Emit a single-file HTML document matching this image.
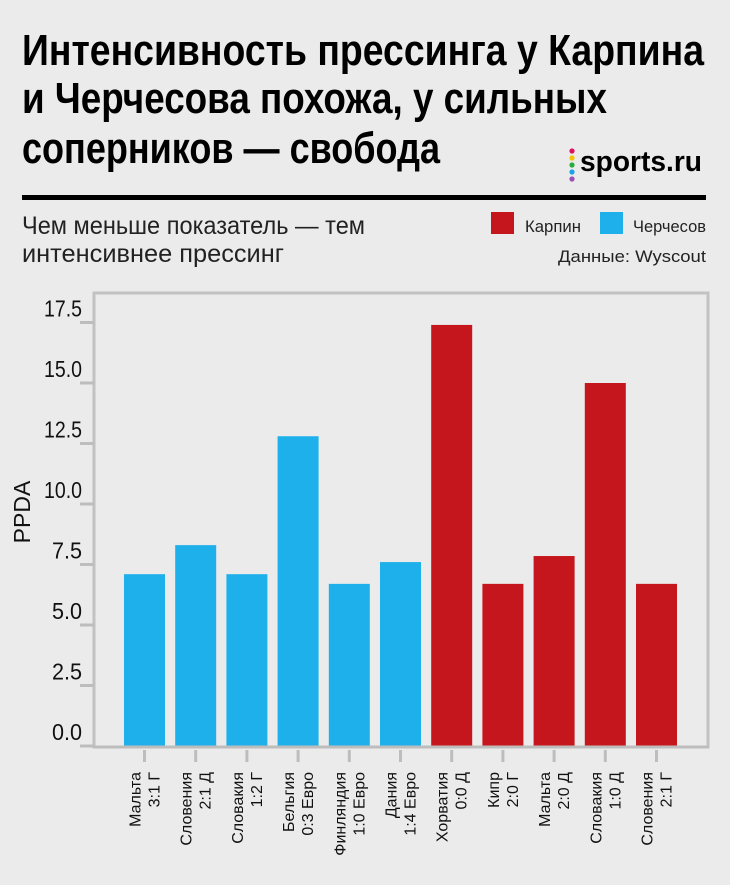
<!DOCTYPE html>
<html><head><meta charset="utf-8">
<style>
html,body{margin:0;padding:0;background:#ebebeb;}
svg{display:block;font-family:"Liberation Sans",sans-serif;}
</style></head>
<body>
<svg width="730" height="885" viewBox="0 0 730 885" xmlns="http://www.w3.org/2000/svg">
<rect width="730" height="885" fill="#ebebeb"/>
<g font-weight="bold" fill="#000" font-size="44">
<text x="22" y="65" textLength="682" lengthAdjust="spacingAndGlyphs">Интенсивность прессинга у Карпина</text>
<text x="22" y="113" textLength="585" lengthAdjust="spacingAndGlyphs">и Черчесова похожа, у сильных</text>
<text x="22" y="163" textLength="418" lengthAdjust="spacingAndGlyphs">соперников — свобода</text>
</g>
<g>
<circle cx="572" cy="151" r="2.6" fill="#e0115f"/>
<circle cx="572" cy="158" r="2.6" fill="#f5c400"/>
<circle cx="572" cy="165" r="2.6" fill="#2bab3c"/>
<circle cx="572" cy="172" r="2.6" fill="#1aa3e8"/>
<circle cx="572" cy="179" r="2.6" fill="#9b4fb3"/>
<text x="580" y="171" font-size="29" font-weight="bold" textLength="122" lengthAdjust="spacingAndGlyphs">sports.ru</text>
</g>
<rect x="22" y="195" width="684" height="5" fill="#000"/>
<g font-size="25" fill="#222">
<text x="22" y="234" textLength="343" lengthAdjust="spacingAndGlyphs">Чем меньше показатель — тем</text>
<text x="22" y="262" textLength="262" lengthAdjust="spacingAndGlyphs">интенсивнее прессинг</text>
</g>
<g font-size="17" fill="#222">
<g><rect x="491" y="212" width="23" height="22" fill="#c4161c"/><text x="525" y="232" textLength="56" lengthAdjust="spacingAndGlyphs">Карпин</text></g>
<g><rect x="600" y="212" width="23" height="22" fill="#1eb0ea"/><text x="633" y="232" textLength="73" lengthAdjust="spacingAndGlyphs">Черчесов</text></g>
<text x="706" y="262" text-anchor="end" textLength="148" lengthAdjust="spacingAndGlyphs">Данные: Wyscout</text>
</g>
<g id="plot"></g>
<text transform="translate(30,512) rotate(-90)" text-anchor="middle" font-size="23" fill="#111">PPDA</text>
</svg>
<script>
const labels1 = ["Мальта","Словения","Словакия","Бельгия","Финляндия","Дания","Хорватия","Кипр","Мальта","Словакия","Словения"];
const labels2 = ["3:1 Г","2:1 Д","1:2 Г","0:3 Евро","1:0 Евро","1:4 Евро","0:0 Д","2:0 Г","2:0 Д","1:0 Д","2:1 Г"];
const values = [7.1, 8.3, 7.1, 12.8, 6.7, 7.6, 17.4, 6.7, 7.85, 15.0, 6.7];
const coach = ["c","c","c","c","c","c","k","k","k","k","k"];
const yTicks = [0, 2.5, 5, 7.5, 10, 12.5, 15, 17.5];
const yTickLabels = ["0.0","2.5","5.0","7.5","10.0","12.5","15.0","17.5"];

const NS="http://www.w3.org/2000/svg";
const g=document.getElementById('plot');
const x0=94,x1=708,y0=293,yBase=746,unit=24.2;
const y=v=>yBase-v*unit;
const step=51.2, bw=41, first=124;
const xc=i=>first+bw/2+i*step;
function mk(t,a){const e=document.createElementNS(NS,t);for(const k in a)e.setAttribute(k,a[k]);g.appendChild(e);return e;}
const frame=mk('rect',{x:x0,y:y0,width:x1-x0,height:yBase+1-y0,fill:'none',stroke:'#c2c2c2','stroke-width':3});


yTicks.forEach((t,i)=>{
  const l=mk('line',{x1:80,x2:x0,y1:y(t),y2:y(t),stroke:'#bdbdbd','stroke-width':3});
  
  
  const tx=mk('text',{x:82,y:y(t)-6,'text-anchor':'end','font-size':23,fill:'#111',textLength:t>=10?38:30,lengthAdjust:'spacingAndGlyphs'});
  tx.textContent=yTickLabels[i];
  
  
});
values.forEach((v,i)=>{
  const r=mk('rect',{x:xc(i)-bw/2,y:y(v),width:bw,height:yBase-y(v),fill:coach[i]==='k'?'#c4161c':'#1eb0ea'});
  
  
  const tk=mk('line',{x1:xc(i),x2:xc(i),y1:yBase+4,y2:yBase+16,stroke:'#bdbdbd','stroke-width':3});
  
  
  const a=mk('text',{transform:`translate(${xc(i)-4},772) rotate(-90)`,'text-anchor':'end','font-size':16,fill:'#111'});
  a.textContent=labels1[i];
  
  
  const b=mk('text',{transform:`translate(${xc(i)+15},772) rotate(-90)`,'text-anchor':'end','font-size':16,fill:'#111'});
  b.textContent=labels2[i];
  
  
});
const ax=mk('line',{x1:x0,x2:x1+1,y1:yBase+1,y2:yBase+1,stroke:'#bdbdbd','stroke-width':3});


</script>
</body></html>
